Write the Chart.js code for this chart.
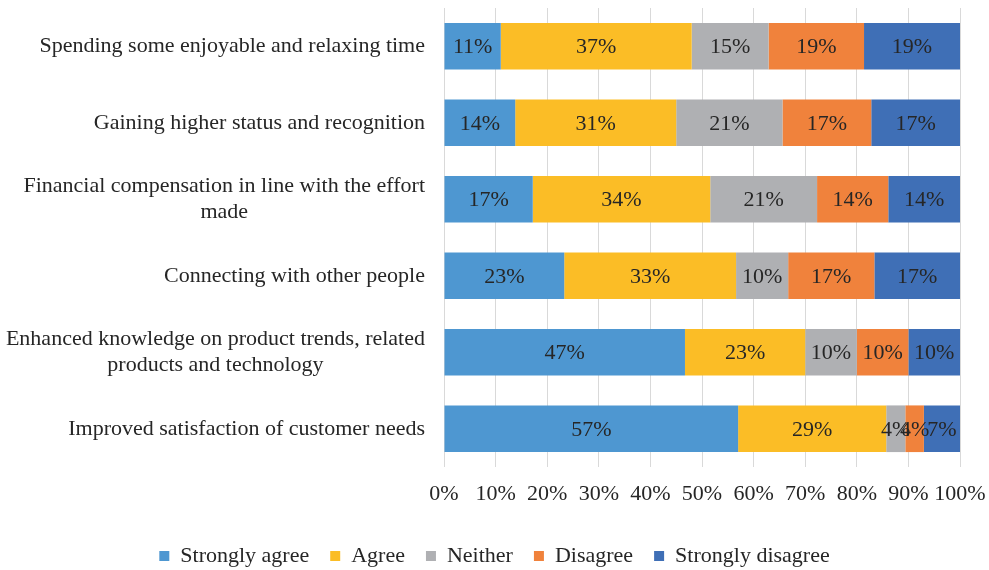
<!DOCTYPE html>
<html>
<head>
<meta charset="utf-8">
<script src="https://cdn.jsdelivr.net/npm/chart.js@4.4.1/dist/chart.umd.min.js"></script>
<style>
  html, body { margin: 0; padding: 0; background: #ffffff; }
  #wrap { width: 989px; height: 570px; position: relative; }
</style>
</head>
<body>
<div id="wrap"><canvas id="c"></canvas></div>
<script>
// ---- data ----
const categories = [
  ["Spending some enjoyable and relaxing time"],
  ["Gaining higher status and recognition"],
  ["Financial compensation in line with the effort", "made"],
  ["Connecting with other people"],
  ["Enhanced knowledge on product trends, related", "products and technology"],
  ["Improved satisfaction of customer needs"]
];
const seriesNames = ["Strongly agree", "Agree", "Neither", "Disagree", "Strongly disagree"];
const stronglyAgree    = [11.0, 13.8, 17.2, 23.3, 46.7, 57.0];
const agree            = [37.0, 31.2, 34.4, 33.3, 23.3, 28.7];
const neither          = [14.9, 20.6, 20.7, 10.1, 10.0, 3.7];
const disagree         = [18.5, 17.2, 13.8, 16.7, 10.0, 3.6];
const stronglyDisagree = [18.6, 17.2, 13.9, 16.6, 10.0, 7.0];
const xTicks = [0, 10, 20, 30, 40, 50, 60, 70, 80, 90, 100];

// ---- styles ----
const colors = ["#4E97D1", "#FBBD26", "#AFB0B3", "#F0823C", "#3F6FB6"];
const FONT = "'Liberation Serif', 'Times New Roman', serif";
const TEXT = "#262626";

Chart.defaults.font.family = FONT;
Chart.defaults.font.size = 22;
Chart.defaults.color = TEXT;

const allSeries = [stronglyAgree, agree, neither, disagree, stronglyDisagree];

const yLabelPlugin = {
  id: 'yLabels',
  afterDraw(chart) {
    const ctx = chart.ctx;
    const ys = chart.scales.y;
    const rightEdge = chart.chartArea.left - 19;
    const lh = 26.5;
    ctx.save();
    ctx.font = "22px " + FONT;
    ctx.fillStyle = TEXT;
    ctx.textAlign = 'center';
    ctx.textBaseline = 'middle';
    categories.forEach((lines, i) => {
      const y = ys.getPixelForValue(i);
      const widest = Math.max(...lines.map(l => ctx.measureText(l).width));
      const cx = rightEdge - widest / 2;
      lines.forEach((l, j) => {
        ctx.fillText(l, cx, y + (j - (lines.length - 1) / 2) * lh);
      });
    });
    ctx.restore();
  }
};

const dataLabelPlugin = {
  id: 'dataLabels',
  afterDatasetsDraw(chart) {
    const ctx = chart.ctx;
    ctx.save();
    ctx.font = "22px " + FONT;
    ctx.fillStyle = TEXT;
    ctx.textAlign = 'center';
    ctx.textBaseline = 'middle';
    chart.data.datasets.forEach((ds, di) => {
      const meta = chart.getDatasetMeta(di);
      meta.data.forEach((el, i) => {
        const p = el.getCenterPoint();
        ctx.fillText(Math.round(ds.data[i]) + '%', p.x, p.y + 1);
      });
    });
    ctx.restore();
  }
};

new Chart(document.getElementById('c'), {
  type: 'bar',
  data: {
    labels: categories,
    datasets: seriesNames.map((n, i) => ({
      label: n,
      data: allSeries[i],
      backgroundColor: colors[i],
      borderWidth: 0,
      categoryPercentage: 0.61,
      barPercentage: 1.0
    }))
  },
  options: {
    indexAxis: 'y',
    responsive: true,
    maintainAspectRatio: false,
    animation: false,
    layout: { padding: { left: 0, right: 0, top: 8, bottom: -7 } },
    scales: {
      x: {
        stacked: true,
        min: 0,
        max: 100,
        afterBuildTicks(scale) { scale.ticks = xTicks.map(v => ({ value: v })); },
        afterFit(scale) {
          scale.height = 57;
          scale.paddingLeft = 0;
          scale.paddingRight = 29;
        },
        ticks: {
          padding: 14,
          color: TEXT,
          maxRotation: 0,
          minRotation: 0,
          autoSkip: false,
          font: { size: 22, family: FONT },
          callback: v => v + '%'
        },
        grid: { color: '#d9d9d9', lineWidth: 1, drawTicks: false },
        border: { display: false }
      },
      y: {
        stacked: true,
        display: true,
        afterFit(scale) { scale.width = 444; },
        ticks: { display: false },
        grid: { display: false, drawTicks: false },
        border: { display: false }
      }
    },
    plugins: {
      legend: {
        position: 'bottom',
        labels: {
          boxWidth: 10,
          boxHeight: 10,
          padding: 21,
          color: TEXT,
          font: { size: 22, family: FONT }
        }
      },
      tooltip: { enabled: false }
    }
  },
  plugins: [yLabelPlugin, dataLabelPlugin]
});
</script>
</body>
</html>
